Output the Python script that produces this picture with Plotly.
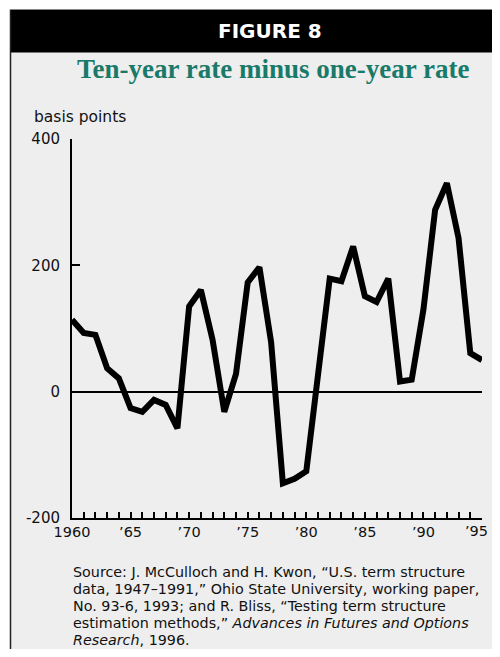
import plotly.graph_objects as go

# ---- data ----
years = list(range(1960, 1996))
spread_bp = [114, 93, 90, 37, 21, -26, -32, -13, -21, -58,
             135, 161, 82, -32, 28, 173, 197, 78, -145, -138,
             -126, 25, 179, 175, 230, 151, 142, 179, 16, 19,
             130, 288, 330, 243, 61, 50]
label_years = [1960, 1965, 1970, 1975, 1980, 1985, 1990, 1995]
label_texts = ["1960", "\u201965", "\u201970", "\u201975", "\u201980", "\u201985", "\u201990", "\u201995"]
y_ticks = [-200, 0, 200, 400]
y_tick_texts = ["-200", "0", "200", "400"]

header_text = "FIGURE 8"
title_text = "Ten-year rate minus one-year rate"
unit_text = "basis points"
source_lines = [
    "Source: J. McCulloch and H. Kwon, \u201cU.S. term structure",
    "data, 1947\u20131991,\u201d Ohio State University, working paper,",
    "No. 93-6, 1993; and R. Bliss, \u201cTesting term structure",
    "estimation methods,\u201d <i>Advances in Futures and Options</i>",
    "<i>Research</i>, 1996.",
]

# ---- layout geometry (page pixels; the page body adds an 8px margin) ----
OFF = 8
FIG_W, FIG_H = 500 - 2 * OFF, 657 - 2 * OFF
PL, PR, PT, PB = 72, 482, 139.3, 517.7      # plot area in page pixels
PW, PH = PR - PL, PB - PT


def px(x):
    return (x - PL) / PW


def py(y):
    return (PB - y) / PH


SANS = "DejaVu Sans"
TICKFONT = dict(family=SANS, size=14.5, color="#111111")

# every year gets a tick; the last label sits at the figure edge, so it is
# drawn as an annotation (right-aligned) to keep it fully visible
tickvals = years
ticktext = [label_texts[label_years.index(y)] if (y in label_years and y != label_years[-1]) else ""
            for y in years]

fig = go.Figure()
fig.add_trace(go.Scatter(
    x=years, y=spread_bp, mode="lines",
    line=dict(color="black", width=6),
    hoverinfo="x+y", showlegend=False,
))

shapes = [
    dict(type="rect", xref="paper", yref="paper", x0=px(10), x1=px(520), y0=py(680), y1=py(10),
         fillcolor="#eeeeee", line=dict(width=0), layer="below"),
    dict(type="rect", xref="paper", yref="paper", x0=px(10), x1=px(520), y0=py(53), y1=py(10),
         fillcolor="black", line=dict(width=0), layer="below"),
    dict(type="line", xref="paper", yref="paper", x0=px(10.5), x1=px(10.5), y0=py(680), y1=py(10),
         line=dict(color="#222222", width=1.5), layer="below"),
    dict(type="line", xref="paper", yref="paper", x0=px(10), x1=px(520), y0=py(10), y1=py(10),
         line=dict(color="#888888", width=1), layer="below"),
]

annotations = [
    dict(text="<b>" + header_text + "</b>", x=px(270), y=py(31.5), xref="paper", yref="paper",
         xanchor="center", yanchor="middle", showarrow=False,
         font=dict(family=SANS, size=20, color="white")),
    dict(text="<b>" + title_text + "</b>", x=px(272.5), y=py(69.5), xref="paper", yref="paper",
         xanchor="center", yanchor="middle", showarrow=False,
         font=dict(family="Liberation Serif", size=27, color="#1a7a6a")),
    dict(text=unit_text, x=px(32), y=py(117), xref="paper", yref="paper",
         xanchor="left", yanchor="middle", showarrow=False,
         font=dict(family=SANS, size=15.5, color="#111111")),
    dict(text=label_texts[-1], x=label_years[-1], xref="x", y=py(531), yref="paper",
         xanchor="right", yanchor="middle", xshift=8, showarrow=False, font=TICKFONT),
]
for i, line in enumerate(source_lines):
    annotations.append(dict(
        text=line, x=px(71), y=py(572 + 17 * i), xref="paper", yref="paper",
        xanchor="left", yanchor="middle", showarrow=False, align="left",
        font=dict(family=SANS, size=14.3, color="#111111")))

fig.update_layout(
    width=FIG_W, height=FIG_H,
    margin=dict(l=PL - OFF, r=FIG_W - (PR - OFF), t=PT - OFF, b=FIG_H - (PB - OFF), pad=0),
    paper_bgcolor="white", plot_bgcolor="rgba(0,0,0,0)",
    shapes=shapes, annotations=annotations,
    xaxis=dict(range=[1960, 1995], tickvals=tickvals, ticktext=ticktext,
               ticks="inside", ticklen=6, tickwidth=1.5, tickcolor="black",
               showline=True, linecolor="black", linewidth=2,
               showgrid=False, zeroline=False, ticklabelstandoff=0,
               tickfont=TICKFONT),
    yaxis=dict(range=[-200, 400], tickvals=y_ticks, ticktext=y_tick_texts,
               ticks="inside", ticklen=8, tickwidth=2, tickcolor="black",
               showline=True, linecolor="black", linewidth=2,
               showgrid=False, zeroline=True, zerolinecolor="black", zerolinewidth=1.5,
               ticklabelstandoff=7,
               tickfont=dict(family=SANS, size=15, color="#111111")),
)

fig.write_html("out.html")
